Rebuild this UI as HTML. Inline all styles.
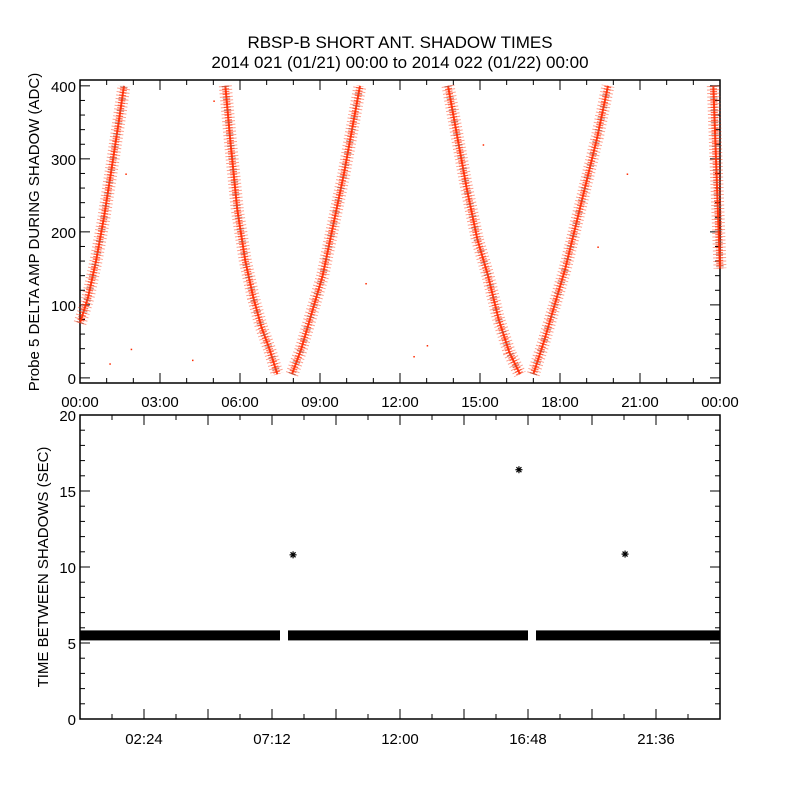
<!DOCTYPE html>
<html><head><meta charset="utf-8"><style>
body{margin:0;background:#fff}
svg{display:block;font-family:"Liberation Sans",sans-serif}
</style></head><body>
<svg id="c" width="800" height="800" viewBox="0 0 800 800">
<rect width="800" height="800" fill="#fff"/>
<text x="400" y="48" text-anchor="middle" font-size="17">RBSP-B SHORT ANT. SHADOW TIMES</text>
<text x="400" y="68" text-anchor="middle" font-size="17">2014 021 (01/21) 00:00 to 2014 022 (01/22) 00:00</text>
<g id="topPanel"></g>
<g id="botPanel"></g>
</svg>
<script>
// top panel data (hours, ADC)
const topTicksX = ["00:00","03:00","06:00","09:00","12:00","15:00","18:00","21:00","00:00"];
const topTicksY = [0,100,200,300,400];
const branchA = [[0,75],[0.3,110],[0.6,160],[0.9,220],[1.2,290],[1.45,350],[1.65,400]];
const branchB = [[5.45,400],[5.65,320],[5.9,230],[6.2,160],[6.5,110],[6.8,70],[7.1,40],[7.4,5]];
const branchC = [[7.95,5],[8.3,40],[8.7,90],[9.1,140],[9.5,210],[9.9,280],[10.2,340],[10.5,400]];
const branchD = [[13.8,400],[14.1,340],[14.5,260],[14.9,190],[15.3,140],[15.7,80],[16.1,35],[16.5,5]];
const branchE = [[17.0,5],[17.4,50],[17.8,100],[18.2,150],[18.6,210],[19.0,270],[19.4,330],[19.8,400]];
const branchF = [[23.75,400],[23.85,300],[23.95,200],[24,150]];
const strayPts = [[1.9,40],[1.1,20],[4.2,25],[5.0,380],[10.7,130],[12.5,30],[13.0,45],[19.4,180],[20.5,280],[15.1,320],[1.7,280]];
// bottom panel data (hours, seconds)
const botTicksY = [0,5,10,15,20];
const botLabels = ["02:24","07:12","12:00","16:48","21:36"];
const botLabelHours = [2.4,7.2,12,16.8,21.6];
const bandSegments = [[0,7.5],[7.8,16.8],[17.1,24]];
const bandLevel = [5.5,5.5,5.5];
const outliers = [[7.99,10.8],[16.46,16.4],[20.44,10.85]];

const NS="http://www.w3.org/2000/svg";
function mk(p,t,a){const e=document.createElementNS(NS,t);for(const k in a)e.setAttribute(k,a[k]);p.appendChild(e);return e;}
const X0=80,X1=720;
const tx=h=>X0+h/24*(X1-X0);
const T={y0:383,y1:80,min:-7,max:408};
const ty=v=>T.y0-(v-T.min)/(T.max-T.min)*(T.y0-T.y1);
const B={y0:719,y1:415};
const by=v=>B.y0-v/20*(B.y0-B.y1);
const topG=document.getElementById('topPanel'), botG=document.getElementById('botPanel');

// top frame
let f=mk(topG,'rect',{x:X0,y:T.y1,width:X1-X0,height:T.y0-T.y1,fill:'none',stroke:'#000','stroke-width':1.5});


for(let h=0;h<=24;h+=1){const x=tx(h),len=(h%3===0)?10:5;
 mk(topG,'line',{x1:x,x2:x,y1:T.y0,y2:T.y0-len,stroke:'#000'});
 mk(topG,'line',{x1:x,x2:x,y1:T.y1,y2:T.y1+len,stroke:'#000'});}
topTicksX.forEach((l,i)=>{const t=mk(topG,'text',{x:tx(i*3),y:407,'text-anchor':'middle','font-size':15});t.textContent=l;
 
 });
for(let v=0;v<=400;v+=20){const y=ty(v),len=(v%100===0)?10:5;
 mk(topG,'line',{x1:X0,x2:X0+len,y1:y,y2:y,stroke:'#000'});
 mk(topG,'line',{x1:X1,x2:X1-len,y1:y,y2:y,stroke:'#000'});}
topTicksY.forEach(v=>{const t=mk(topG,'text',{x:76,y:ty(v)+6,'text-anchor':'end','font-size':15});t.textContent=v;
 
 });
let yl=mk(topG,'text',{x:0,y:0,'text-anchor':'middle','font-size':15,transform:'translate(39,232) rotate(-90)'});
yl.textContent='Probe 5 DELTA AMP DURING SHADOW (ADC)';



[branchA,branchB,branchC,branchD,branchE,branchF].forEach((br,i)=>{
 const pts=br.map(p=>tx(p[0])+','+ty(Math.min(p[1],405))).join(' ');
 const g=mk(topG,'g',{});
 
 
 mk(g,'polyline',{points:pts,fill:'none',stroke:'#ff2a00','stroke-width':13,'stroke-dasharray':'1 2.5','stroke-opacity':0.45});
 mk(g,'polyline',{points:pts,fill:'none',stroke:'#ff2a00','stroke-width':7,'stroke-dasharray':'1.2 1.4','stroke-opacity':0.7});
 mk(g,'polyline',{points:pts,fill:'none',stroke:'#ff2a00','stroke-width':2,'stroke-opacity':0.9});
 mk(g,'polyline',{points:pts,fill:'none',stroke:'#777','stroke-width':8,'stroke-dasharray':'1 11','stroke-opacity':0.4});
});
strayPts.forEach(p=>{const r=mk(topG,'rect',{x:tx(p[0]),y:ty(p[1]),width:1.5,height:1.5,fill:'#ff2a00'});
 
 });

// bottom frame
f=mk(botG,'rect',{x:X0,y:B.y1,width:X1-X0,height:B.y0-B.y1,fill:'none',stroke:'#000','stroke-width':1.5});


for(let k=0;k<=20;k++){const x=tx(k*1.2),len=(k%2===0)?10:5;
 mk(botG,'line',{x1:x,x2:x,y1:B.y0,y2:B.y0-len,stroke:'#000'});
 mk(botG,'line',{x1:x,x2:x,y1:B.y1,y2:B.y1+len,stroke:'#000'});}
botLabels.forEach((l,i)=>{const t=mk(botG,'text',{x:tx(botLabelHours[i]),y:744,'text-anchor':'middle','font-size':15});t.textContent=l;
 
 });
for(let v=0;v<=20;v+=1){const y=by(v),len=(v%5===0)?10:5;
 mk(botG,'line',{x1:X0,x2:X0+len,y1:y,y2:y,stroke:'#000'});
 mk(botG,'line',{x1:X1,x2:X1-len,y1:y,y2:y,stroke:'#000'});}
botTicksY.forEach(v=>{const t=mk(botG,'text',{x:76,y:by(v)+6,'text-anchor':'end','font-size':15});t.textContent=v;
 
 });
yl=mk(botG,'text',{x:0,y:0,'text-anchor':'middle','font-size':15,transform:'translate(48,567) rotate(-90)'});
yl.textContent='TIME BETWEEN SHADOWS (SEC)';


bandSegments.forEach((s,i)=>{const r=mk(botG,'rect',{x:tx(s[0]),y:by(bandLevel[i])-5,width:tx(s[1])-tx(s[0]),height:10,fill:'#000'});
 
 });
outliers.forEach(p=>{const x=tx(p[0]),y=by(p[1]);
 const g=mk(botG,'g',{stroke:'#000','stroke-width':1.2});
 
 
 mk(g,'line',{x1:x-3.5,x2:x+3.5,y1:y,y2:y});
 mk(g,'line',{x1:x,x2:x,y1:y-3.5,y2:y+3.5});
 mk(g,'line',{x1:x-2.5,x2:x+2.5,y1:y-2.5,y2:y+2.5});
 mk(g,'line',{x1:x-2.5,x2:x+2.5,y1:y+2.5,y2:y-2.5});});
</script>
</body></html>
